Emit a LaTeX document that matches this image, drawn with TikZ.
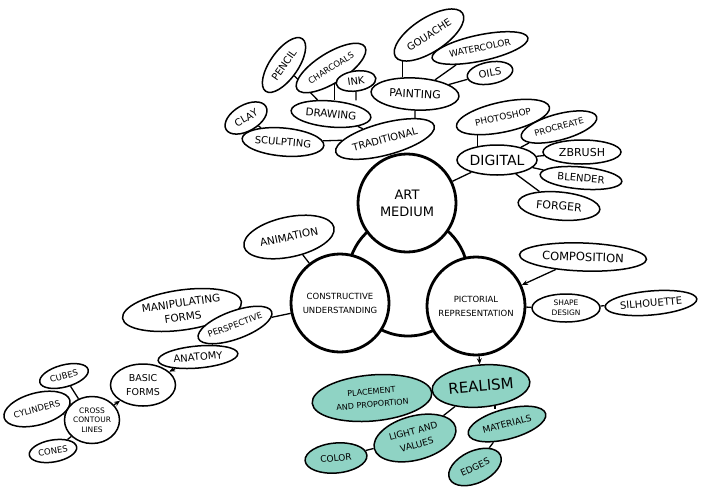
\documentclass[tikz,border=0pt]{standalone}
\usepackage{fontspec}
\setmainfont{DejaVu Sans}
\usetikzlibrary{shapes.geometric,arrows.meta,backgrounds,calc}
\definecolor{tealfill}{RGB}{143,211,196}
\begin{document}
\begin{tikzpicture}[x=1pt,y=-1pt,
  bub/.style={draw, ellipse, line width=1.5pt, fill=white, inner xsep=-6pt, inner ysep=0pt,
    font=\fontsize{10}{11}\selectfont, align=center},
  tbub/.style={bub, fill=tealfill},
  hub/.style={draw, circle, line width=2.8pt, fill=white, inner sep=0pt, minimum size=98pt,
    align=center, font=\fontsize{8.5}{14}\selectfont},
  link/.style={line width=1.3pt},
  arr/.style={link, -{Stealth[length=6pt,width=5pt]}},
]
\useasboundingbox (0,0) rectangle (709,493);

% central cluster
\node[draw, circle, line width=2.8pt, minimum size=120pt, inner sep=0pt] (core) at (408,276) {};
\node[hub, font=\fontsize{13}{17}\selectfont] (art) at (407,203) {ART\\MEDIUM};
\node[hub] (cu) at (340,303) {CONSTRUCTIVE\\UNDERSTANDING};
\node[hub] (pr) at (476,306) {PICTORIAL\\REPRESENTATION};

% traditional
\node[bub, minimum width=80, minimum height=34, rotate=33] (gouache) at (429,35) {GOUACHE};
\node[bub, minimum width=98, minimum height=26, rotate=12, font=\fontsize{9}{10}\selectfont] (watercolor) at (480,48) {WATERCOLOR};
\node[bub, minimum width=46, minimum height=22, rotate=10] (oils) at (490,73) {OILS};
\node[bub, minimum width=64, minimum height=28, rotate=55] (pencil) at (284,65) {PENCIL};
\node[bub, minimum width=80, minimum height=30, rotate=32, font=\fontsize{8.5}{10}\selectfont] (charcoals) at (331,68) {CHARCOALS};
\node[bub, minimum width=40, minimum height=20, rotate=8] (ink) at (356,81) {INK};
\node[bub, minimum width=88, minimum height=32, rotate=-3, font=\fontsize{11}{12}\selectfont] (painting) at (415,94) {PAINTING};
\node[bub, minimum width=80, minimum height=26, rotate=-5, font=\fontsize{10.5}{11}\selectfont] (drawing) at (331,114) {DRAWING};
\node[bub, minimum width=46, minimum height=26, rotate=30] (clay) at (246,118) {CLAY};
\node[bub, minimum width=82, minimum height=28, rotate=-5] (sculpting) at (283,142) {SCULPTING};
\node[bub, minimum width=102, minimum height=32, rotate=15] (traditional) at (385,139) {TRADITIONAL};

% digital
\node[bub, minimum width=95, minimum height=30, rotate=12, font=\fontsize{9}{10}\selectfont] (photoshop) at (503,117) {PHOTOSHOP};
\node[bub, minimum width=78, minimum height=26, rotate=15, font=\fontsize{8.5}{10}\selectfont] (procreate) at (559,127) {PROCREATE};
\node[bub, minimum width=80, minimum height=30, font=\fontsize{14}{15}\selectfont] (digital) at (497,160) {DIGITAL};
\node[bub, minimum width=78, minimum height=24, font=\fontsize{11}{12}\selectfont] (zbrush) at (582,152) {ZBRUSH};
\node[bub, minimum width=82, minimum height=22, rotate=-5] (blender) at (581,178) {BLENDER};
\node[bub, minimum width=82, minimum height=28, rotate=-5, font=\fontsize{11}{12}\selectfont] (forger) at (559,206) {FORGER};

% constructive understanding
\node[bub, minimum width=92, minimum height=40, rotate=12, font=\fontsize{10.5}{11}\selectfont] (animation) at (289,237) {ANIMATION};
\node[bub, minimum width=120, minimum height=40, rotate=8, font=\fontsize{10.5}{14}\selectfont] (manip) at (182,310) {MANIPULATING\\FORMS};
\node[bub, minimum width=78, minimum height=28, rotate=20, font=\fontsize{8.5}{10}\selectfont] (persp) at (235,325) {PERSPECTIVE};
\node[bub, minimum width=80, minimum height=22, rotate=5] (anatomy) at (198,357) {ANATOMY};
\node[bub, minimum width=65, minimum height=42, font=\fontsize{9.5}{14}\selectfont] (basic) at (143,385) {BASIC\\FORMS};
\node[bub, minimum width=50, minimum height=22, rotate=15, font=\fontsize{8.5}{10}\selectfont] (cubes) at (64,376) {CUBES};
\node[bub, minimum width=68, minimum height=32, rotate=15, font=\fontsize{8.5}{10}\selectfont] (cylinders) at (37,409) {CYLINDERS};
\node[bub, minimum width=55, minimum height=47, inner xsep=-3pt, font=\fontsize{7.5}{9.5}\selectfont] (ccl) at (92,420) {CROSS\\CONTOUR\\LINES};
\node[bub, minimum width=48, minimum height=22, rotate=10, font=\fontsize{8.5}{10}\selectfont] (cones) at (53,451) {CONES};

% pictorial representation
\node[bub, minimum width=127, minimum height=28, rotate=-2, font=\fontsize{11.5}{12}\selectfont] (composition) at (583,257) {COMPOSITION};
\node[bub, minimum width=68, minimum height=28, inner xsep=-2pt, font=\fontsize{7.5}{9.5}\selectfont] (shape) at (566,308) {SHAPE\\DESIGN};
\node[bub, minimum width=92, minimum height=24, rotate=5] (silhouette) at (651,303) {SILHOUETTE};

% realism
\node[tbub, minimum width=98, minimum height=42, rotate=5, font=\fontsize{15}{16}\selectfont] (realism) at (481,386) {REALISM};
\node[tbub, minimum width=120, minimum height=46, rotate=5, font=\fontsize{8}{13}\selectfont] (placement) at (372,398) {PLACEMENT\\AND PROPORTION};
\node[tbub, minimum width=84, minimum height=44, rotate=15, font=\fontsize{9}{14}\selectfont] (light) at (415,438) {LIGHT AND\\VALUES};
\node[tbub, minimum width=80, minimum height=30, rotate=15, font=\fontsize{9}{10}\selectfont] (materials) at (507,424) {MATERIALS};
\node[tbub, minimum width=62, minimum height=30, rotate=5, font=\fontsize{9}{10}\selectfont] (color) at (336,458) {COLOR};
\node[tbub, minimum width=56, minimum height=32, rotate=25, font=\fontsize{9}{10}\selectfont] (edges) at (475,467) {EDGES};

\begin{scope}[on background layer]
  % traditional
  \draw[link] (painting.130) -- (painting.130 |- gouache.south);
  \draw[link] (watercolor) -- (painting);
  \draw[link] (oils) -- (painting);
  \draw[link] (pencil) -- (drawing);
  \draw[link] (charcoals.250) -- (charcoals.250 |- drawing.north);
  \draw[link] (ink) -- (ink |- drawing.north);
  \draw[link] (drawing) -- (traditional);
  \draw[link] (painting) -- (painting |- traditional.north);
  \draw[link] (clay) -- (sculpting);
  \draw[link] (sculpting) -- (traditional);
  \draw[link] (traditional) -- (art);
  % digital
  \draw[link] (digital.145) -- (digital.145 |- photoshop.south);
  \draw[link] (procreate) -- (digital);
  \draw[link] (zbrush) -- (digital);
  \draw[link] (blender) -- (digital);
  \draw[link] (forger) -- (digital);
  \draw[link] (digital) -- (art);
  % constructive
  \draw[link] (animation) -- (cu);
  \draw[link] (persp) -- (cu);
  \draw[arr] (persp) -- (manip);
  \draw[link] (persp) -- (anatomy);
  \draw[arr] (anatomy) -- (basic);
  \draw[arr] (ccl) -- (basic);
  \draw[link] (cubes) -- (ccl);
  \draw[link] (cylinders) -- (ccl);
  \draw[link] (cones) -- (ccl);
  % pictorial
  \draw[arr] (composition) -- (pr);
  \draw[link] (shape) -- (pr);
  \draw[link] (shape) -- (silhouette);
  \draw[arr] (pr) -- (realism);
  \draw[link] (placement) -- (realism);
  \draw[link] (realism) -- (light);
  \draw[link] (realism.300) -- (realism.300 |- materials.north);
  \draw[link] (color) -- (light);
  \draw[link] (materials) -- (edges);
\end{scope}
\end{tikzpicture}
\end{document}
